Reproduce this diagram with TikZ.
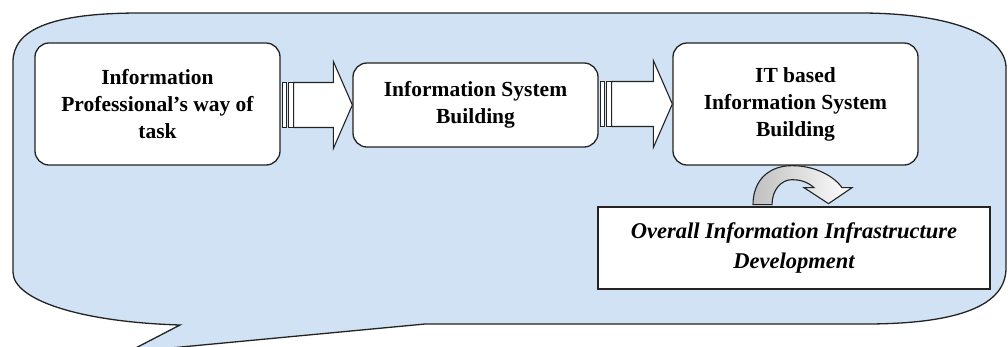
\documentclass[tikz,border=0pt]{standalone}
\usepackage{fontspec}
\setmainfont{Liberation Serif}
\usetikzlibrary{calc}
\definecolor{bgblue}{RGB}{208,226,243}
\definecolor{edge}{RGB}{35,35,35}
\begin{document}
\begin{tikzpicture}[x=1pt,y=-1pt,
  outline/.style={draw=edge, line width=1.3pt},
  box/.style={outline, fill=white, rounded corners=14pt, align=center,
    font=\fontsize{21.5}{27}\selectfont\bfseries, inner sep=0pt},
  infobox/.style={outline, fill=white, align=center,
    font=\fontsize{22.5}{30}\selectfont\bfseries\itshape, inner sep=0pt,
    minimum width=392pt, minimum height=82pt},
  blockarrow/.style={draw=edge, line width=1.1pt, fill=white, line join=miter},
  curvearrow/.style={draw=edge, line width=1.1pt, left color=black!25, right color=white}
]
\clip (0,0) rectangle (1008,346);
% callout background
\path[outline, fill=bgblue]
  (13,62) .. controls (13,30) and (50,13) .. (140,13) -- (860,13)
  .. controls (950,13) and (1006,35) .. (1006,68) -- (1006,268)
  .. controls (1006,305) and (960,324) .. (865,324) -- (425,324)
  -- (128,352) -- (180,325)
  .. controls (80,322) and (13,300) .. (13,272) -- cycle;

% boxes
\node[box, minimum width=245pt, minimum height=122pt] (b1) at (157.5,104)
  {Information\\Professional’s way of\\task};
\node[box, minimum width=245pt, minimum height=84pt] (b2) at (475.5,105)
  {Information System\\Building};
\node[box, minimum width=245pt, minimum height=122pt] (b3) at (795.5,104)
  {IT based\\Information System\\Building};
\node[infobox] (b4) at (794,248)
  {Overall Information Infrastructure\\Development};

% striped block arrows between boxes
\foreach \a/\b in {b1/b2, b2/b3}{
  \draw[blockarrow] let \p1=(\a.east), \p2=(\b.west) in
    (\x1+13pt,\y2+22.5pt) -- (\x2-19pt,\y2+22.5pt) -- (\x2-19pt,\y2+43.5pt)
    -- (\x2,\y2) -- (\x2-19pt,\y2-43.5pt) -- (\x2-19pt,\y2-22.5pt)
    -- (\x1+13pt,\y2-22.5pt) -- cycle;
  \draw[blockarrow] let \p1=(\a.east), \p2=(\b.west) in
    (\x1+2pt,\y2+22.5pt) rectangle (\x1+5.5pt,\y2-22.5pt)
    (\x1+7.5pt,\y2+22.5pt) rectangle (\x1+13pt,\y2-22.5pt);
}

% curved arrow from b3 to b4
\begin{scope}[shift={(b3.south)}]
  \draw[curvearrow]
    (-42.5,39) .. controls (-42.5,14) and (-26,0) .. (-3.5,0)
    .. controls (19,0) and (38,10) .. (46.5,22) -- (56.5,22)
    -- (33,38) -- (8.5,22) -- (18.5,22)
    .. controls (12,16) and (4,14) .. (-3.5,14)
    .. controls (-14,14) and (-23.5,24) .. (-23.5,39) -- cycle;
\end{scope}
\end{tikzpicture}
\end{document}
